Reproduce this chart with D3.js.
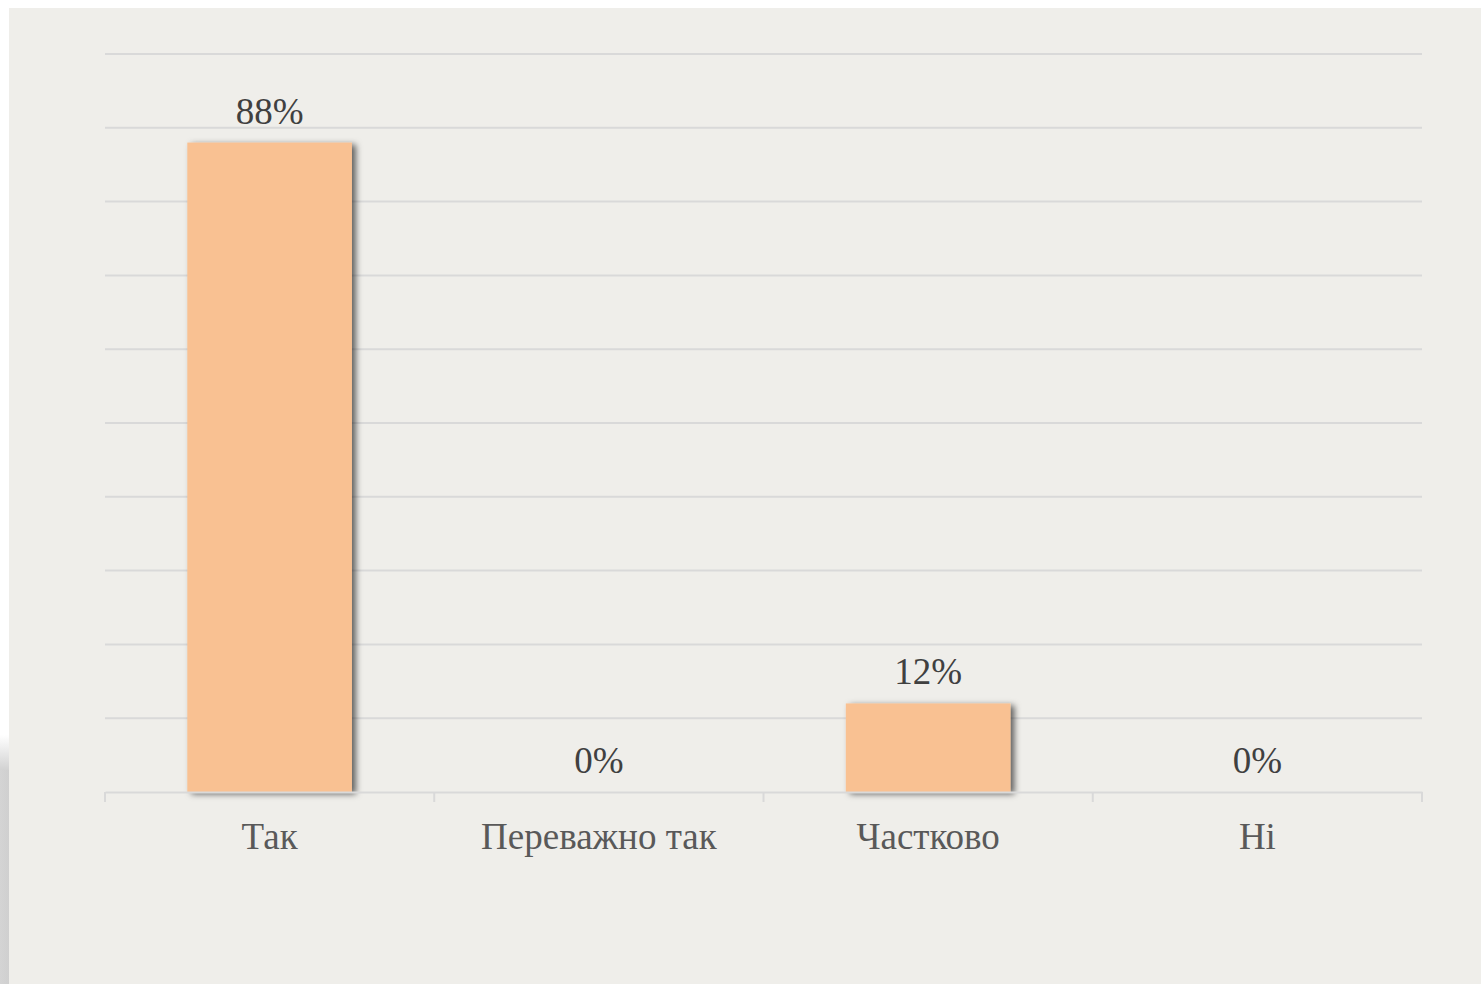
<!DOCTYPE html>
<html>
<head>
<meta charset="utf-8">
<script src="https://cdn.jsdelivr.net/npm/d3@7"></script>
<style>
  html, body { margin: 0; padding: 0; background: #fff; }
  #chart { width: 1481px; height: 984px; }
</style>
</head>
<body>
<div id="chart"></div>
<script>
var categories = ['Так', 'Переважно так', 'Частково', 'Ні']
var values = [0.88, 0, 0.12, 0]
var gridTicks = [0, 0.1, 0.2, 0.3, 0.4, 0.5, 0.6, 0.7, 0.8, 0.9, 1]

var width = 1481, height = 984,
    margin = {top: 54, bottom: 192, left: 105, right: 59}

var chartWidth = width - margin.left - margin.right,
    chartHeight = height - margin.top - margin.bottom
var font = '"Liberation Serif", "Times New Roman", serif'

var svg = d3.select('#chart').append('svg').attr('width', width).attr('height', height)

var defs = svg.append('defs')
// left edge shadow
var lg = defs.append('linearGradient').attr('id', 'edge').attr('x1', 0).attr('x2', 1).attr('y1', 0).attr('y2', 0)
lg.append('stop').attr('offset', '0%').attr('stop-color', '#d4d4d4')
lg.append('stop').attr('offset', '100%').attr('stop-color', '#cfcfcf')
var vg = defs.append('linearGradient').attr('id', 'edgeV').attr('x1', 0).attr('x2', 0).attr('y1', 0).attr('y2', 1)
vg.append('stop').attr('offset', '0%').attr('stop-color', '#fff')
vg.append('stop').attr('offset', '100%').attr('stop-color', '#d2d2d2')
var f = defs.append('filter').attr('id', 'shadow').attr('x', '-20%').attr('y', '-20%').attr('width', '140%').attr('height', '140%')
f.append('feDropShadow').attr('dx', 4).attr('dy', 2).attr('stdDeviation', 3)
  .attr('flood-color', '#000').attr('flood-opacity', 0.6)

svg.append('rect').attr('x', 0).attr('y', 735).attr('width', 10).attr('height', 35).attr('fill', 'url(#edgeV)')
svg.append('rect').attr('x', 0).attr('y', 770).attr('width', 10).attr('height', height - 770).attr('fill', 'url(#edge)')
svg.append('rect').attr('x', 9).attr('y', 8).attr('width', width - 9).attr('height', height - 8).attr('fill', '#efeeea')

var x = d3.scaleBand().domain(categories).range([0, chartWidth]).paddingInner(0.5).paddingOuter(0.25)
var y = d3.scaleLinear().domain([0, 1]).range([chartHeight, 0])

var chart = svg.append('g').attr('transform', 'translate(' + margin.left + ',' + margin.top + ')')

// gridlines
chart.append('g').selectAll('line').data(gridTicks.filter(d => d > 0)).enter()
  .append('line')
  .attr('x1', 0).attr('x2', chartWidth)
  .attr('y1', d => y(d)).attr('y2', d => y(d))
  .attr('stroke', '#d9d9d9').attr('stroke-width', 2)

// bars
chart.append('g').selectAll('rect').data(values).enter()
  .append('rect')
  .attr('x', (d, i) => x(categories[i]))
  .attr('y', d => y(d))
  .attr('width', x.bandwidth())
  .attr('height', d => chartHeight - y(d))
  .attr('fill', '#f9c192')
  .attr('filter', d => d > 0 ? 'url(#shadow)' : null)

// x axis
var axis = d3.axisBottom(x).tickSize(0).tickPadding(31)
var ax = chart.append('g').attr('transform', 'translate(0,' + chartHeight + ')').call(axis)
ax.select('.domain').attr('stroke', '#d9d9d9').attr('stroke-width', 2)
ax.selectAll('text')
  .attr('font-family', font)
  .attr('font-size', 37).attr('fill', '#595959')
// category boundaries
var bounds = d3.range(categories.length + 1).map(i => i * chartWidth / categories.length)
ax.selectAll('line.sep').data(bounds).enter().append('line').classed('sep', true)
  .attr('x1', d => d).attr('x2', d => d).attr('y1', 0).attr('y2', 10)
  .attr('stroke', '#d9d9d9').attr('stroke-width', 2)

// value labels
chart.append('g').selectAll('text').data(values).enter()
  .append('text')
  .attr('x', (d, i) => x(categories[i]) + x.bandwidth() / 2)
  .attr('y', d => y(d) - 19)
  .attr('text-anchor', 'middle')
  .attr('font-family', font)
  .attr('font-size', 37).attr('fill', '#404040')
  .text(d => Math.round(d * 100) + '%')
</script>
</body>
</html>
